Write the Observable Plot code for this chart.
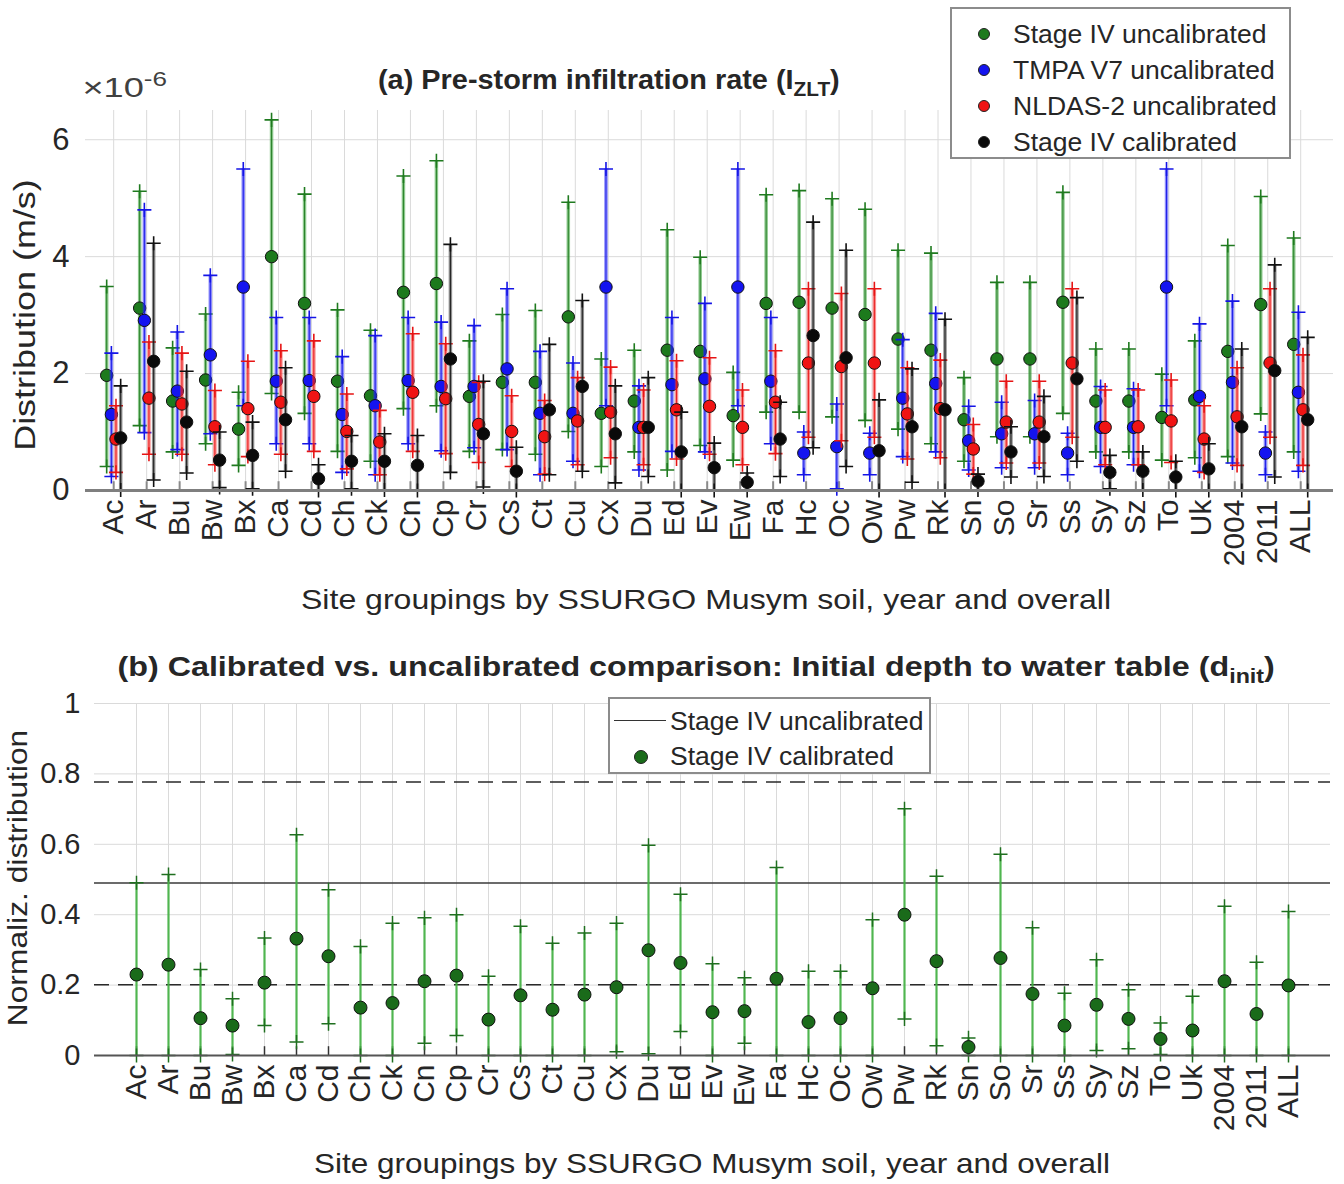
<!DOCTYPE html>
<html>
<head>
<meta charset="utf-8">
<script src="https://cdn.jsdelivr.net/npm/d3@7"></script>
<script src="https://cdn.jsdelivr.net/npm/@observablehq/plot@0.6"></script>
<style>
  html, body { margin: 0; padding: 0; background: #fff; }
  body { width: 1344px; height: 1184px; position: relative; overflow: hidden;
         font-family: "Liberation Sans", Arial, sans-serif; color: #262626; }
  .abs { position: absolute; white-space: nowrap; line-height: 1; }
  .legend { position: absolute; background: #fff; border: 2px solid #8c8c8c; box-sizing: border-box; }
  .lg-item { position: absolute; white-space: nowrap; line-height: 1; font-size: 26.5px; }
  .lg-dot { position: absolute; border-radius: 50%; border: 1px solid #222; box-sizing: border-box; }
  sub { font-size: 0.72em; vertical-align: -0.35em; line-height: 0; }
  sup { font-size: 0.72em; vertical-align: 0.55em; line-height: 0; }
</style>
</head>
<body>
<div id="pa" style="position:absolute;left:0;top:0"></div>
<div id="pb" style="position:absolute;left:0;top:640px"></div>
<script>
// ---------------- DATA ----------------
const cats = ["Ac","Ar","Bu","Bw","Bx","Ca","Cd","Ch","Ck","Cn","Cp","Cr","Cs","Ct","Cu","Cx","Du","Ed","Ev","Ew","Fa","Hc","Oc","Ow","Pw","Rk","Sn","So","Sr","Ss","Sy","Sz","To","Uk","2004","2011","ALL"];
const seriesNamesA = ["Stage IV uncalibrated","TMPA V7 uncalibrated","NLDAS-2 uncalibrated","Stage IV calibrated"];

// Panel (a): values in units of 1e-6 m/s (median, lower, upper)
const stage4UncalMed = [1.97,3.12,1.53,1.89,1.05,4.00,3.20,1.87,1.62,3.39,3.54,1.61,1.85,1.85,2.97,1.32,1.53,2.40,2.38,1.28,3.20,3.22,3.12,3.01,2.59,2.40,1.21,2.25,2.25,3.22,1.53,1.53,1.25,1.55,2.38,3.18,2.50];
const stage4UncalLo  = [0.41,1.11,0.66,0.80,0.43,1.66,1.32,0.67,0.50,1.40,1.45,0.67,0.70,0.62,1.01,0.41,0.66,0.35,0.77,0.52,1.34,1.34,1.26,1.20,1.05,0.80,0.50,0.92,0.92,1.32,0.66,0.66,0.52,0.56,0.58,1.31,0.66];
const stage4UncalHi  = [3.49,5.12,2.44,3.02,1.68,6.34,5.07,3.09,2.74,5.38,5.64,2.56,3.01,3.08,4.93,2.25,2.40,4.46,3.99,2.02,5.06,5.13,4.99,4.81,4.11,4.06,1.93,3.56,3.56,5.10,2.42,2.42,1.99,2.56,4.19,5.03,4.32];

const tmpaMed = [1.30,2.91,1.70,2.32,3.48,1.87,1.88,1.30,1.45,1.88,1.78,1.78,2.08,1.32,1.32,3.48,1.08,1.81,1.91,3.48,1.87,0.64,0.75,0.64,1.58,1.83,0.85,0.97,0.97,0.64,1.08,1.08,3.48,1.61,1.85,0.64,1.68];
const tmpaLo  = [0.24,0.99,0.70,0.97,1.45,0.80,0.80,0.31,0.27,0.80,0.68,0.73,0.70,0.27,0.50,1.45,0.35,0.67,0.66,1.45,0.80,0.27,0.03,0.27,0.58,0.66,0.35,0.39,0.39,0.27,0.41,0.44,1.45,0.33,0.47,0.27,0.33];
const tmpaHi  = [2.35,4.80,2.71,3.68,5.50,2.96,2.96,2.29,2.65,2.96,2.88,2.82,3.45,2.38,2.18,5.50,1.79,2.96,3.20,5.50,2.96,1.00,1.48,0.98,2.58,3.03,1.44,1.51,1.54,0.98,1.78,1.74,5.50,2.85,3.24,1.00,3.05];

const nldasMed = [0.88,1.58,1.48,1.09,1.40,1.51,1.61,1.01,0.83,1.68,1.57,1.13,1.01,0.92,1.19,1.34,1.08,1.38,1.44,1.08,1.51,2.18,2.12,2.18,1.31,1.40,0.71,1.17,1.17,2.18,1.08,1.09,1.19,0.88,1.26,2.18,1.38];
const nldasLo  = [0.31,0.62,0.62,0.44,0.58,0.62,0.67,0.37,0.27,0.67,0.63,0.48,0.41,0.28,0.44,0.56,0.44,0.54,0.62,0.44,0.63,0.91,0.85,0.91,0.54,0.56,0.28,0.47,0.47,0.91,0.44,0.44,0.48,0.31,0.43,0.91,0.43];
const nldasHi  = [1.45,2.54,2.35,1.71,2.21,2.39,2.56,1.65,1.37,2.68,2.51,1.85,1.62,1.54,1.93,2.11,1.72,2.22,2.27,1.72,2.39,3.45,3.37,3.45,2.10,2.23,1.13,1.87,1.87,3.45,1.72,1.72,1.89,1.45,2.10,3.45,2.32];

const stage4CalMed = [0.90,2.21,1.17,0.52,0.60,1.21,0.20,0.50,0.50,0.43,2.25,0.97,0.33,1.38,1.78,0.97,1.08,0.66,0.39,0.14,0.88,2.65,2.27,0.68,1.09,1.38,0.16,0.66,0.92,1.91,0.31,0.33,0.23,0.37,1.09,2.05,1.21];
const stage4CalLo  = [0.01,0.18,0.30,0.05,0.03,0.33,0.00,0.03,0.01,0.00,0.31,0.06,0.00,0.27,0.33,0.13,0.24,0.00,0.00,0.00,0.24,0.73,0.41,0.00,0.14,0.00,0.01,0.23,0.24,0.50,0.03,0.01,0.00,0.00,0.00,0.23,0.00];
const stage4CalHi  = [1.79,4.23,2.04,1.00,1.17,2.10,0.44,0.94,0.97,0.94,4.21,1.87,0.74,2.50,3.25,1.79,1.93,1.34,0.81,0.30,1.51,4.59,4.11,1.55,2.08,2.93,0.28,1.09,1.61,3.30,0.60,0.66,0.50,0.80,2.42,3.86,2.62];

const yTicksA = [0, 2, 4, 6];

// Panel (b): normalized initial depth to water table, Stage IV calibrated
const dinitMed = [0.230,0.258,0.106,0.085,0.207,0.332,0.282,0.136,0.149,0.211,0.227,0.102,0.171,0.130,0.173,0.194,0.299,0.263,0.123,0.126,0.218,0.095,0.106,0.191,0.400,0.268,0.024,0.277,0.175,0.085,0.144,0.104,0.047,0.071,0.211,0.118,0.199];
const dinitLo  = [0.000,0.000,0.000,0.003,0.085,0.038,0.090,0.000,0.000,0.035,0.057,0.000,0.000,0.000,0.000,0.011,0.005,0.068,0.000,0.035,0.000,0.000,0.000,0.000,0.104,0.028,0.000,0.000,0.000,0.000,0.014,0.019,0.003,0.000,0.000,0.000,0.000];
const dinitHi  = [0.491,0.514,0.244,0.161,0.334,0.627,0.471,0.310,0.376,0.391,0.400,0.225,0.367,0.319,0.348,0.376,0.597,0.458,0.261,0.221,0.534,0.239,0.239,0.386,0.701,0.509,0.050,0.572,0.363,0.177,0.272,0.187,0.092,0.168,0.424,0.265,0.409];
const uncalibratedRef = [0.490];          // Stage IV uncalibrated (solid line)
const uncalibratedBounds = [0.201, 0.777]; // dashed bounds
const yTicksB = [0, 0.2, 0.4, 0.6, 0.8, 1];

// ---------------- STYLE ----------------
const FONT = "'Liberation Sans', Arial, sans-serif";
const PLUS_R = 4.6;
const seriesA = [
  {med: stage4UncalMed, lo: stage4UncalLo, hi: stage4UncalHi, fill: "#1d7a1d", line: "#2e9a2e", plus: "#1f7a1f", dx: -7},
  {med: tmpaMed,        lo: tmpaLo,        hi: tmpaHi,        fill: "#1414f0", line: "#2a2af5", plus: "#1414e6", dx: -2.3},
  {med: nldasMed,       lo: nldasLo,       hi: nldasHi,       fill: "#f01414", line: "#f53030", plus: "#e61414", dx: 2.3},
  {med: stage4CalMed,   lo: stage4CalLo,   hi: stage4CalHi,   fill: "#0a0a0a", line: "#333333", plus: "#111111", dx: 7}
];

// ---------------- PANEL A ----------------
const marksA = [
  Plot.gridX({stroke: "#dadada", strokeOpacity: 1, strokeWidth: 1}),
  Plot.gridY({ticks: yTicksA, stroke: "#dadada", strokeOpacity: 1, strokeWidth: 1}),
  Plot.ruleX(cats, {x: d => d, y1: 0, y2: 0.15, stroke: "#8a8a8a", strokeWidth: 2})
];
for (const s of seriesA) {
  const rows = cats.map((c, i) => ({cat: c, med: s.med[i], lo: s.lo[i], hi: s.hi[i]}));
  marksA.push(
    Plot.ruleX(rows, {x: "cat", y1: "lo", y2: "hi", dx: s.dx, stroke: s.line, strokeWidth: 3.5, strokeOpacity: 0.55}),
    Plot.ruleX(rows, {x: "cat", y1: "lo", y2: "hi", dx: s.dx, stroke: s.plus, strokeWidth: 1, strokeOpacity: 0.9}),
    Plot.dot(rows, {x: "cat", y: "hi", dx: s.dx, symbol: "plus", r: PLUS_R, stroke: s.plus, strokeWidth: 1.6}),
    Plot.dot(rows, {x: "cat", y: "lo", dx: s.dx, symbol: "plus", r: PLUS_R, stroke: s.plus, strokeWidth: 1.6}),
    Plot.dot(rows, {x: "cat", y: "med", dx: s.dx, r: 6.2, fill: s.fill, stroke: "#111", strokeWidth: 1})
  );
}
marksA.push(
  Plot.ruleY([0], {stroke: "#7f7f7f", strokeWidth: 3}),
  Plot.axisY({ticks: yTicksA, tickFormat: d => String(d), tickSize: 0, tickPadding: 16, fontSize: 31, label: null, line: true, stroke: "#7f7f7f", strokeWidth: 2}),
  Plot.axisX({tickRotate: -90, tickSize: 0, tickPadding: 9, fontSize: 30, label: null})
);

const plotA = Plot.plot({
  width: 1344, height: 640,
  marginTop: 110, marginBottom: 150, marginLeft: 85, marginRight: 11,
  x: {type: "point", domain: cats, range: [96.7, 1316.7], label: null},
  y: {domain: [0, 6.5], label: null},
  style: {fontFamily: FONT, color: "#262626", background: "transparent", overflow: "visible"},
  marks: marksA
});
document.getElementById("pa").appendChild(plotA);

// ---------------- PANEL B ----------------
const rowsB = cats.map((c, i) => ({cat: c, med: dinitMed[i], lo: dinitLo[i], hi: dinitHi[i]}));
const plotB = Plot.plot({
  width: 1344, height: 544,
  marginTop: 63, marginBottom: 129, marginLeft: 94, marginRight: 14,
  x: {type: "point", domain: cats, range: [111.7, 1313], label: null},
  y: {domain: [0, 1], label: null},
  style: {fontFamily: FONT, color: "#262626", background: "transparent", overflow: "visible"},
  marks: [
    Plot.gridX({stroke: "#dadada", strokeOpacity: 1}),
    Plot.gridY({ticks: yTicksB, stroke: "#dadada", strokeOpacity: 1}),
    Plot.ruleY(uncalibratedBounds, {stroke: "#2a2a2a", strokeWidth: 1.6, strokeDasharray: "15,9"}),
    Plot.ruleY(uncalibratedRef, {stroke: "#3a3a3a", strokeWidth: 1.6}),
    Plot.ruleX(cats, {x: d => d, y1: 0, y2: 0.025, stroke: "#333", strokeWidth: 1.5}),
    Plot.ruleX(rowsB, {x: "cat", y1: "lo", y2: "hi", stroke: "#40b040", strokeWidth: 2.2, strokeOpacity: 0.9}),
    Plot.dot(rowsB, {x: "cat", y: "hi", symbol: "plus", r: PLUS_R, stroke: "#1f6f1f", strokeWidth: 1.5}),
    Plot.dot(rowsB, {x: "cat", y: "lo", symbol: "plus", r: PLUS_R, stroke: "#1f6f1f", strokeWidth: 1.5}),
    Plot.dot(rowsB, {x: "cat", y: "med", r: 6.5, fill: "#1a6b1a", stroke: "#111", strokeWidth: 1}),
    Plot.ruleY([0], {stroke: "#555", strokeWidth: 2}),
    Plot.axisY({ticks: yTicksB, tickFormat: d => String(d), tickSize: 0, tickPadding: 14, fontSize: 29, label: null, line: true, stroke: "#555", strokeWidth: 2}),
    Plot.axisX({tickRotate: -90, tickSize: 0, tickPadding: 9, fontSize: 30, label: null})
  ]
});
document.getElementById("pb").appendChild(plotB);

// ---------------- TEXT & LEGENDS ----------------
function place(html, {cx, cy, size, bold = false, len = null, rot = false, color = "#262626"}) {
  const d = document.createElement("div");
  d.className = "abs";
  d.innerHTML = html;
  d.style.fontSize = size + "px";
  d.style.color = color;
  if (bold) d.style.fontWeight = "bold";
  document.body.appendChild(d);
  const w = d.offsetWidth, h = d.offsetHeight;
  const k = len ? len / w : 1;
  d.style.left = (cx - w / 2) + "px";
  d.style.top = (cy - h / 2) + "px";
  d.style.transform = (rot ? "rotate(-90deg) " : "") + "scaleX(" + k + ")";
  return d;
}

place("(a) Pre-storm infiltration rate (I<sub>ZLT</sub>)", {cx: 609, cy: 80, size: 27, bold: true, len: 462});
place("&times;10<sup>-6</sup>", {cx: 124, cy: 88, size: 28, len: 84, color: "#404040"});
place("Site groupings by SSURGO Musym soil, year and overall", {cx: 706, cy: 600, size: 28, len: 810});
place("Distribution (m/s)", {cx: 25, cy: 315, size: 30, len: 272, rot: true});

place("(b) Calibrated vs. uncalibrated comparison: Initial depth to water table (d<sub>init</sub>)", {cx: 696, cy: 667, size: 27, bold: true, len: 1157});
place("Site groupings by SSURGO Musym soil, year and overall", {cx: 712, cy: 1164, size: 28, len: 796});
place("Normaliz. distribution", {cx: 17, cy: 878, size: 28, len: 296, rot: true});

// Legend (a)
const legA = document.createElement("div");
legA.className = "legend";
Object.assign(legA.style, {left: "950px", top: "7px", width: "341px", height: "152px"});
document.body.appendChild(legA);
seriesNamesA.forEach((name, i) => {
  const cy = 25 + i * 36;
  const dot = document.createElement("div");
  dot.className = "lg-dot";
  Object.assign(dot.style, {left: (32 - 6) + "px", top: (cy - 6) + "px", width: "12px", height: "12px", background: seriesA[i].fill});
  legA.appendChild(dot);
  const t = document.createElement("div");
  t.className = "lg-item";
  t.textContent = name;
  legA.appendChild(t);
  t.style.left = "61px";
  t.style.top = (cy - t.offsetHeight / 2) + "px";
});

// Legend (b)
const legB = document.createElement("div");
legB.className = "legend";
Object.assign(legB.style, {left: "608px", top: "697px", width: "323px", height: "77px"});
document.body.appendChild(legB);
const ln = document.createElement("div");
Object.assign(ln.style, {position: "absolute", left: "4px", top: "21px", width: "52px", height: "0", borderTop: "1.6px solid #333"});
legB.appendChild(ln);
const ldot = document.createElement("div");
ldot.className = "lg-dot";
Object.assign(ldot.style, {left: "24px", top: "51px", width: "14px", height: "14px", background: "#1a6b1a"});
legB.appendChild(ldot);
["Stage IV uncalibrated", "Stage IV calibrated"].forEach((name, i) => {
  const t = document.createElement("div");
  t.className = "lg-item";
  t.textContent = name;
  legB.appendChild(t);
  t.style.left = "60px";
  t.style.top = ((i === 0 ? 22 : 57) - t.offsetHeight / 2) + "px";
});
</script>
</body>
</html>
